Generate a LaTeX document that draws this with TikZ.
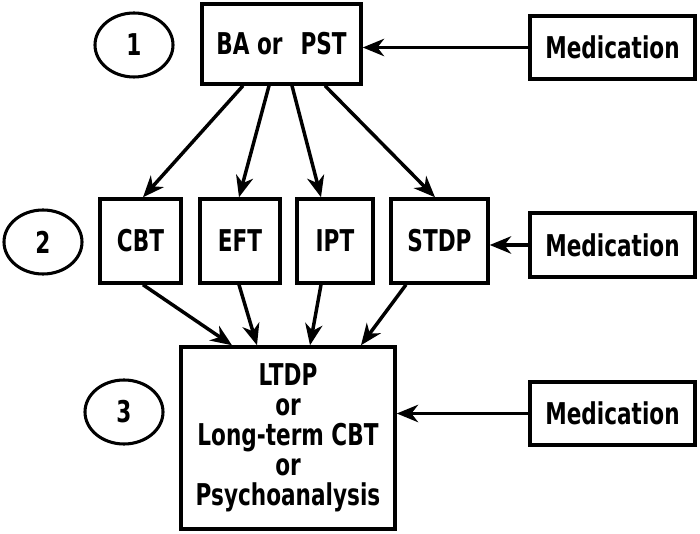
\documentclass[tikz,border=0pt]{standalone}
\usepackage{fontspec}
\setmainfont{DejaVu Sans}[FakeStretch=0.72,BoldFont=DejaVu Sans Bold,BoldFeatures={FakeStretch=0.72}]
\usetikzlibrary{arrows.meta,shapes.geometric}
\begin{document}
\begin{tikzpicture}[x=0.75pt,y=-0.75pt,
  every node/.style={font=\bfseries\fontsize{22.5}{22.5}\selectfont},
  box/.style={draw,line width=2.6pt,rectangle,inner sep=0pt,align=center},
  num/.style={draw,line width=2.3pt,ellipse,inner sep=0pt,minimum width=78*0.75pt,minimum height=64*0.75pt},
  arr/.style={line width=2.6pt,-{Stealth[length=16pt,width=13pt,inset=5pt]}}]
\useasboundingbox (0,0) rectangle (700,534);
\node[num] (c1) at (134,45) {1};
\node[num] (c2) at (43,242) {2};
\node[num] (c3) at (124,412) {3};
\node[box,minimum width=159*0.75pt,minimum height=80*0.75pt] (ba) at (281.5,44) {BA or\hspace{0.6em}PST};
\node[box,minimum width=165*0.75pt,minimum height=63*0.75pt] (m1) at (612.5,47.5) {Medication};
\node[box,minimum width=81*0.75pt,minimum height=84*0.75pt] (cbt) at (140.5,241) {CBT};
\node[box,minimum width=80*0.75pt,minimum height=84*0.75pt] (eft) at (240,241) {EFT};
\node[box,minimum width=76*0.75pt,minimum height=84*0.75pt] (ipt) at (335,241) {IPT};
\node[box,minimum width=97*0.75pt,minimum height=84*0.75pt] (stdp) at (439.5,241) {STDP};
\node[box,minimum width=165*0.75pt,minimum height=64*0.75pt] (m2) at (612.5,245) {Medication};
\node[box,minimum width=214*0.75pt,minimum height=182*0.75pt] (big) at (288,438) {LTDP\\or\\Long-term CBT\\or\\Psychoanalysis};
\node[box,minimum width=165*0.75pt,minimum height=63*0.75pt] (m3) at (612.5,413.5) {Medication};
\draw[arr] (m1.west) -- (m1.west -| ba.east);
\draw[arr] (m2.west) -- (m2.west -| stdp.east);
\draw[arr] (m3.west) -- (m3.west -| big.east);
\draw[arr] ([xshift=-38.5*0.75pt]ba.south) -- ([xshift=2.5*0.75pt]cbt.north);
\draw[arr] ([xshift=-12.5*0.75pt]ba.south) -- ([xshift=-1*0.75pt]eft.north);
\draw[arr] ([xshift=10.5*0.75pt]ba.south) -- ([xshift=-14*0.75pt]ipt.north);
\draw[arr] ([xshift=43.5*0.75pt]ba.south) -- ([xshift=-4.5*0.75pt]stdp.north);
\draw[arr] ([xshift=2.5*0.75pt]cbt.south) -- ([xshift=-56*0.75pt]big.north);
\draw[arr] ([xshift=-1*0.75pt]eft.south) -- ([xshift=-31*0.75pt]big.north);
\draw[arr] ([xshift=-14*0.75pt]ipt.south) -- ([xshift=22*0.75pt]big.north);
\draw[arr] ([xshift=-33.5*0.75pt]stdp.south) -- ([xshift=73*0.75pt]big.north);
\end{tikzpicture}
\end{document}
